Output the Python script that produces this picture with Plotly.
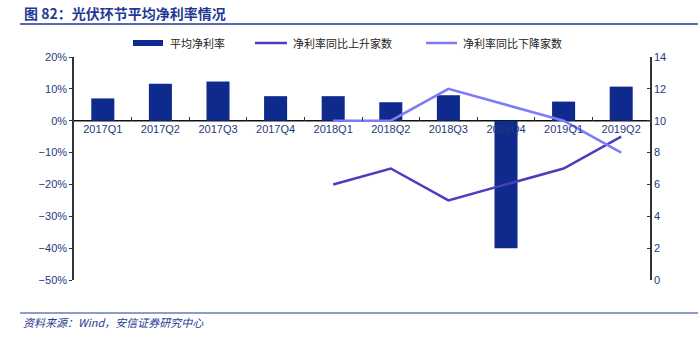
import plotly.graph_objects as go

# Quarterly data
quarters = ["2017Q1", "2017Q2", "2017Q3", "2017Q4", "2018Q1",
            "2018Q2", "2018Q3", "2018Q4", "2019Q1", "2019Q2"]
avg_margin = [7.0, 11.6, 12.3, 7.7, 7.7, 5.8, 8.0, -40.0, 6.0, 10.7]   # %
line_quarters = ["2018Q1", "2018Q2", "2018Q3", "2018Q4", "2019Q1", "2019Q2"]
up_count = [6, 7, 5, 6, 7, 9]
down_count = [10, 10, 12, 11, 10, 8]

y_left = [-50, 20]
y_right = [0, 14]

BAR = "#0E2A8C"
UP = "#4A3EBF"
DOWN = "#7F7BF7"
TXT = "#1F3A7A"
BLUE = "#1F3A93"
CJK = "Noto Sans CJK SC"
LAT = "Liberation Sans, Arial"

W, H = 698, 344
ML, MR, MT, MB = 74, 48, 57, 64
PW, PH = W - ML - MR, H - MT - MB

fig = go.Figure()
fig.add_bar(x=quarters, y=avg_margin, marker=dict(color=BAR, line=dict(width=0)),
            width=0.4, showlegend=False)
fig.add_scatter(x=line_quarters, y=up_count, yaxis="y2", mode="lines",
                line=dict(color=UP, width=2.5), showlegend=False)
fig.add_scatter(x=line_quarters, y=down_count, yaxis="y2", mode="lines",
                line=dict(color=DOWN, width=2.5), showlegend=False)

zero_pos = (0 - y_left[0]) / (y_left[1] - y_left[0])

fig.update_layout(
    width=W, height=H,
    margin=dict(l=ML, r=MR, t=MT, b=MB),
    paper_bgcolor="white", plot_bgcolor="white",
    xaxis=dict(type="category", categoryorder="array", categoryarray=quarters,
               range=[-0.5, len(quarters) - 0.5],
               anchor="free", position=zero_pos,
               showline=False,
               ticks="inside", ticklen=4, tickcolor="#333333", tickson="boundaries",
               tickfont=dict(family=LAT, size=11, color=TXT),
               showgrid=False, zeroline=False),
    yaxis=dict(range=y_left, dtick=10, ticksuffix="%",
               showline=True, linecolor="#333333", linewidth=1.5,
               ticks="outside", ticklen=3, tickcolor="#333333",
               tickfont=dict(family=LAT, size=11, color=TXT),
               showgrid=False, zeroline=False),
    yaxis2=dict(range=y_right, dtick=2, overlaying="y", side="right",
                showline=True, linecolor="#333333", linewidth=1.5,
                ticks="inside", ticklen=3, tickcolor="#333333",
                tickfont=dict(family=LAT, size=11, color=TXT),
                showgrid=False, zeroline=False),
    bargap=0.6,
)


def px(x):
    return (x - ML) / PW


def py(y):
    return (H - MB - y) / PH


shapes = [
    # category axis line at zero, kept beneath the bars and lines
    dict(type="line", xref="paper", yref="y", x0=0, x1=1, y0=0, y1=0,
         layer="below", line=dict(color="#111111", width=1.5)),
    # rule under the heading and above the source note
    dict(type="line", xref="paper", yref="paper", x0=px(20), x1=px(698),
         y0=py(24), y1=py(24), line=dict(color=BLUE, width=1.5)),
    dict(type="line", xref="paper", yref="paper", x0=px(20), x1=px(698),
         y0=py(313), y1=py(313), line=dict(color=BLUE, width=1.2)),
    # legend swatches
    dict(type="rect", xref="paper", yref="paper", x0=px(133), x1=px(163),
         y0=py(46), y1=py(40), line=dict(width=0), fillcolor=BAR),
    dict(type="line", xref="paper", yref="paper", x0=px(255), x1=px(287),
         y0=py(43), y1=py(43), line=dict(color=UP, width=2.5)),
    dict(type="line", xref="paper", yref="paper", x0=px(426), x1=px(457),
         y0=py(43), y1=py(43), line=dict(color=DOWN, width=2.5)),
]

annotations = [
    dict(text="<b>图 82：光伏环节平均净利率情况</b>", xref="paper", yref="paper",
         x=px(22), y=py(13), xanchor="left", yanchor="middle", showarrow=False,
         font=dict(family=CJK, size=14, color=BLUE)),
    dict(text="<i>资料来源：Wind，安信证券研究中心</i>", xref="paper", yref="paper",
         x=px(21), y=py(322), xanchor="left", yanchor="middle", showarrow=False,
         font=dict(family=CJK, size=11, color=BLUE)),
]
for x, name in [(168, "平均净利率"), (291, "净利率同比上升家数"), (461, "净利率同比下降家数")]:
    annotations.append(dict(text=name, xref="paper", yref="paper", x=px(x), y=py(43),
                            xanchor="left", yanchor="middle", showarrow=False,
                            font=dict(family=CJK, size=11, color="#222222")))

fig.update_layout(shapes=shapes, annotations=annotations)
fig.write_html("out.html")
